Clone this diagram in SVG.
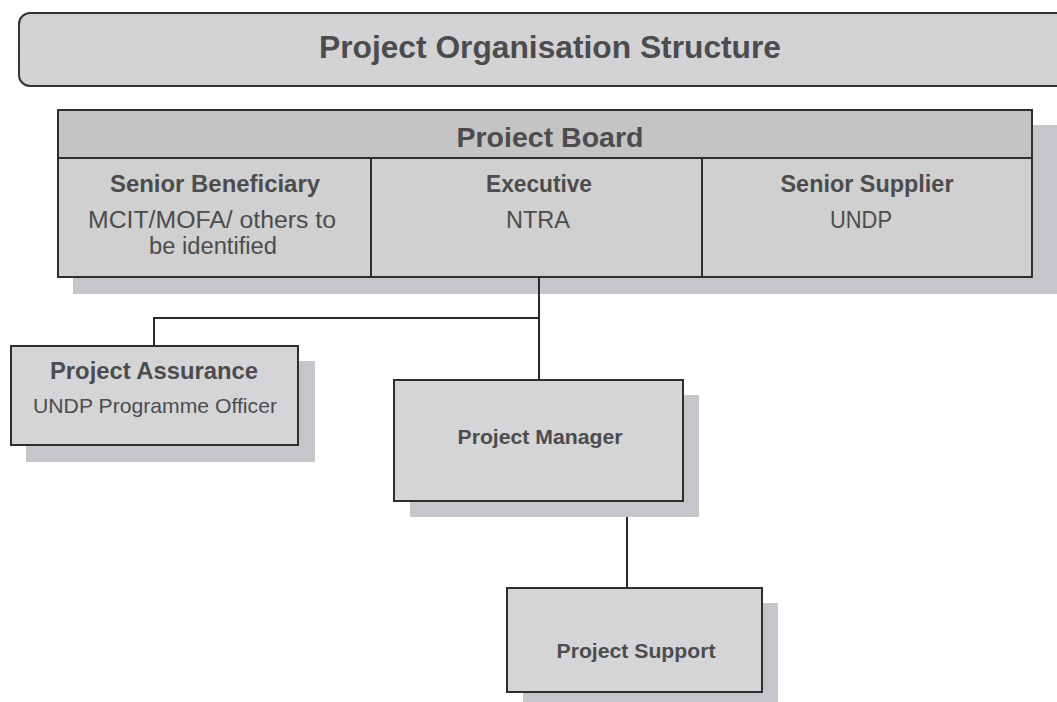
<svg xmlns="http://www.w3.org/2000/svg" width="1057" height="702" viewBox="0 0 1057 702">
<style>
  .shadow { fill: #c6c6ca; }
  .box { fill: #d5d5d8; stroke: #2e2e2e; stroke-width: 2; }
  .cell { fill: #d0d0d0; stroke: #2e2e2e; stroke-width: 2; }
  .hdr { fill: #c4c4c4; stroke: #2e2e2e; stroke-width: 2; }
  .conn { fill: none; stroke: #2a2a2a; stroke-width: 2; }
  text { font-family: "Liberation Sans", Arial, sans-serif; fill: #4c4c4e; text-anchor: middle; }
  .b { font-weight: bold; }
</style>
<rect x="0" y="0" width="1057" height="702" fill="#ffffff"/>

<g id="title">
  <rect x="19" y="13" width="1060" height="73" rx="11" ry="11" fill="#d3d3d5" stroke="#333" stroke-width="2"/>
  <text x="550" y="58" class="b" font-size="31" textLength="462" lengthAdjust="spacingAndGlyphs">Project Organisation Structure</text>
</g>

<g id="project-board">
  <rect class="shadow" x="73" y="125" width="984" height="169"/>
  <rect class="hdr" x="58" y="110" width="974" height="48"/>
  <text x="550" y="147" class="b" font-size="28" textLength="187" lengthAdjust="spacingAndGlyphs">Proiect Board</text>
  <g id="senior-beneficiary">
    <rect class="cell" x="58" y="158" width="313" height="119"/>
    <text x="215" y="192" class="b" font-size="23" textLength="210" lengthAdjust="spacingAndGlyphs">Senior Beneficiary</text>
    <text x="212" y="228" font-size="23" textLength="248" lengthAdjust="spacingAndGlyphs">MCIT/MOFA/ others to</text>
    <text x="213" y="254" font-size="23" textLength="128" lengthAdjust="spacingAndGlyphs">be identified</text>
  </g>
  <g id="executive">
    <rect class="cell" x="371" y="158" width="331" height="119"/>
    <text x="539" y="192" class="b" font-size="23" textLength="106" lengthAdjust="spacingAndGlyphs">Executive</text>
    <text x="538" y="228" font-size="23" textLength="64" lengthAdjust="spacingAndGlyphs">NTRA</text>
  </g>
  <g id="senior-supplier">
    <rect class="cell" x="702" y="158" width="330" height="119"/>
    <text x="867" y="192" class="b" font-size="23" textLength="173" lengthAdjust="spacingAndGlyphs">Senior Supplier</text>
    <text x="861" y="228" font-size="23" textLength="62" lengthAdjust="spacingAndGlyphs">UNDP</text>
  </g>
</g>

<g id="connectors">
  <path class="conn" d="M539,277 V380"/>
  <path class="conn" d="M539,318 H154 V346"/>
  <path class="conn" d="M627,501 V588"/>
</g>

<g id="project-assurance">
  <rect class="shadow" x="26" y="361" width="289" height="101"/>
  <rect class="box" x="11" y="346" width="287" height="99"/>
  <text x="154" y="379" class="b" font-size="23" textLength="208" lengthAdjust="spacingAndGlyphs">Project Assurance</text>
  <text x="155" y="413" font-size="21" textLength="244" lengthAdjust="spacingAndGlyphs">UNDP Programme Officer</text>
</g>

<g id="project-manager">
  <rect class="shadow" x="410" y="395" width="289" height="122"/>
  <rect class="box" x="394" y="380" width="289" height="121"/>
  <text x="540" y="444" class="b" font-size="21" textLength="165" lengthAdjust="spacingAndGlyphs">Project Manager</text>
</g>

<g id="project-support">
  <rect class="shadow" x="523" y="603" width="255" height="99"/>
  <rect class="box" x="507" y="588" width="255" height="104"/>
  <text x="636" y="658" class="b" font-size="21" textLength="159" lengthAdjust="spacingAndGlyphs">Project Support</text>
</g>
</svg>
